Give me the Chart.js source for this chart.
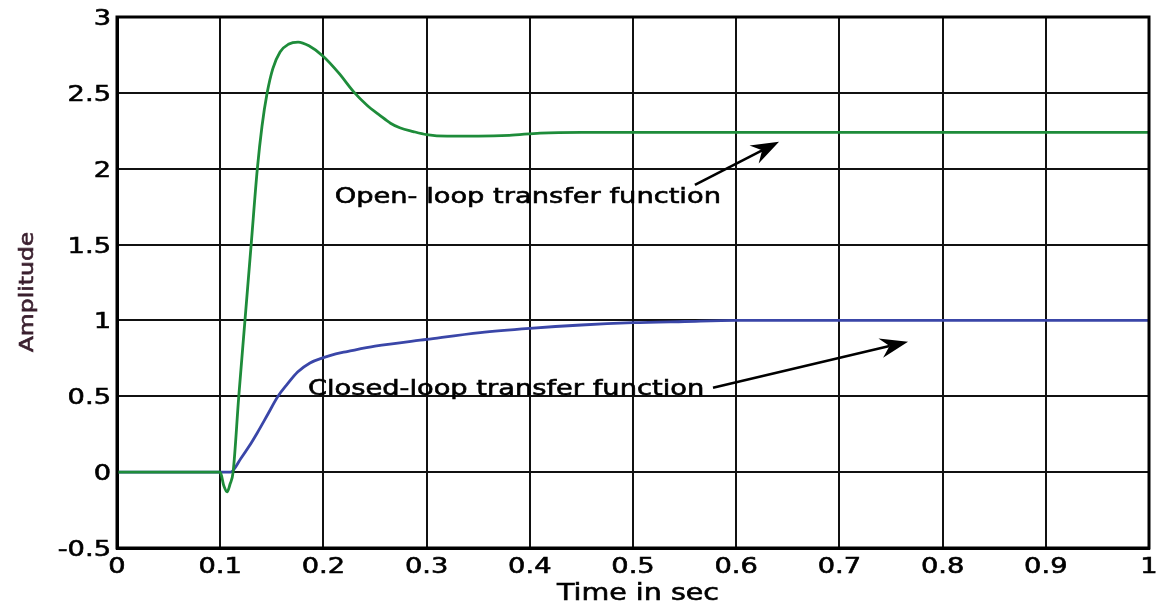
<!DOCTYPE html>
<html>
<head>
<meta charset="utf-8">
<script src="https://cdn.jsdelivr.net/npm/chart.js@4.4.1/dist/chart.umd.min.js"></script>
<style>
  html, body { margin: 0; padding: 0; background: #fff; }
  canvas { display: block; }
</style>
</head>
<body>
<canvas id="c" width="1161" height="606"></canvas>
<script>
// Step response samples (time in seconds, amplitude)
const openTime = [0, 0.1, 0.1035, 0.1067, 0.1095, 0.1125, 0.118, 0.124, 0.130, 0.136, 0.1405, 0.1455, 0.151, 0.158, 0.166, 0.1755, 0.186, 0.2, 0.215, 0.229, 0.242, 0.255, 0.265, 0.274, 0.287, 0.30, 0.32, 0.35, 0.38, 0.41, 0.45, 0.5, 0.6, 0.7, 0.8, 0.9, 1.0];
const openAmp  = [0, 0, -0.09, -0.13, -0.08, 0, 0.5, 1.0, 1.5, 2.0, 2.28, 2.5, 2.66, 2.77, 2.82, 2.835, 2.81, 2.74, 2.63, 2.51, 2.42, 2.35, 2.30, 2.27, 2.245, 2.225, 2.215, 2.215, 2.22, 2.235, 2.24, 2.24, 2.24, 2.24, 2.24, 2.24, 2.24];

const closedTime = [0, 0.11, 0.12, 0.128, 0.136, 0.146, 0.156, 0.165, 0.175, 0.187, 0.2, 0.212, 0.223, 0.25, 0.3, 0.352, 0.4, 0.45, 0.5, 0.55, 0.6, 0.7, 0.8, 0.9, 1.0];
const closedAmp  = [0, 0, 0.09, 0.17, 0.26, 0.38, 0.50, 0.58, 0.66, 0.72, 0.755, 0.78, 0.795, 0.83, 0.875, 0.92, 0.948, 0.97, 0.985, 0.993, 1.0, 1.0, 1.0, 1.0, 1.0];

const xTicks = [0, 0.1, 0.2, 0.3, 0.4, 0.5, 0.6, 0.7, 0.8, 0.9, 1];
const xTickLabels = ['0', '0.1', '0.2', '0.3', '0.4', '0.5', '0.6', '0.7', '0.8', '0.9', '1'];
const yTicks = [-0.5, 0, 0.5, 1, 1.5, 2, 2.5, 3];
const yTickLabels = ['-0.5', '0', '0.5', '1', '1.5', '2', '2.5', '3'];

const seriesNames = ['Open- loop transfer function', 'Closed-loop transfer function'];
const xTitle = 'Time in sec';
const yTitle = 'Amplitude';

const FONT = '"DejaVu Sans", Verdana, sans-serif';
const STRETCH = 1.24;   // wide lettering

const pts = (xs, ys) => xs.map((x, i) => ({ x: x, y: ys[i] }));

// Callouts: label anchor and arrow, in data units
const callouts = [
  { text: seriesNames[0], at: { x: 0.211, y: 1.776 }, from: { x: 0.560, y: 1.894 }, to: { x: 0.6415, y: 2.178 } },
  { text: seriesNames[1], at: { x: 0.185, y: 0.508 }, from: { x: 0.5775, y: 0.556 }, to: { x: 0.7665, y: 0.86 } }
];

function wideText(ctx, text, x, y, align, color, size) {
  ctx.save();
  ctx.translate(x, y);
  ctx.scale(STRETCH, 1);
  ctx.font = size + 'px ' + FONT;
  ctx.textAlign = align;
  ctx.textBaseline = 'alphabetic';
  ctx.fillStyle = color;
  ctx.strokeStyle = color;
  ctx.lineWidth = 0.6;
  ctx.fillText(text, 0, 0);
  ctx.strokeText(text, 0, 0);
  ctx.restore();
}

function arrow(ctx, x0, y0, x1, y1) {
  const ang = Math.atan2(y1 - y0, x1 - x0);
  const len = 28, half = 10, notch = 19;
  const ux = Math.cos(ang), uy = Math.sin(ang);
  ctx.beginPath();
  ctx.moveTo(x0, y0);
  ctx.lineTo(x1 - ux * notch, y1 - uy * notch);
  ctx.stroke();
  const bx = x1 - ux * len, by = y1 - uy * len;
  const nx = -uy, ny = ux;
  ctx.beginPath();
  ctx.moveTo(x1, y1);
  ctx.lineTo(bx + nx * half, by + ny * half);
  ctx.lineTo(x1 - ux * notch, y1 - uy * notch);
  ctx.lineTo(bx - nx * half, by - ny * half);
  ctx.closePath();
  ctx.fill();
}

const background = {
  id: 'background',
  beforeDraw(chart) {
    const ctx = chart.ctx;
    ctx.save();
    ctx.fillStyle = '#fff';
    ctx.fillRect(0, 0, chart.width, chart.height);
    ctx.restore();
  }
};

const decorations = {
  id: 'decorations',
  afterDraw(chart) {
    const { ctx, chartArea: a, scales } = chart;
    const sx = scales.x, sy = scales.y;
    ctx.save();
    // frame
    ctx.strokeStyle = '#000';
    ctx.lineWidth = 3;
    ctx.strokeRect(a.left, a.top, a.right - a.left, a.bottom - a.top);

    // tick labels
    sx.ticks.forEach((t, i) => {
      wideText(ctx, xTickLabels[i], sx.getPixelForValue(t.value), a.bottom + 25, 'center', '#000', 22);
    });
    sy.ticks.forEach((t, i) => {
      wideText(ctx, yTickLabels[i], a.left - 6, sy.getPixelForValue(t.value) + 8, 'right', '#000', 22);
    });

    // callouts
    ctx.fillStyle = '#000';
    ctx.strokeStyle = '#000';
    ctx.lineWidth = 2.6;
    callouts.forEach(c => {
      wideText(ctx, c.text, sx.getPixelForValue(c.at.x), sy.getPixelForValue(c.at.y), 'left', '#000', 22);
      arrow(ctx, sx.getPixelForValue(c.from.x), sy.getPixelForValue(c.from.y),
                 sx.getPixelForValue(c.to.x), sy.getPixelForValue(c.to.y));
    });

    // axis titles
    wideText(ctx, xTitle, (a.left + a.right) / 2 + 5, 600, 'center', '#000', 23);
    ctx.translate(33, 292);
    ctx.rotate(-Math.PI / 2);
    wideText(ctx, yTitle, 0, 0, 'center', '#3a1f2e', 19);
    ctx.restore();
  }
};

new Chart(document.getElementById('c'), {
  type: 'scatter',
  data: {
    datasets: [
      { label: seriesNames[0], data: pts(openTime, openAmp), showLine: true, borderColor: '#1e8c3a',
        borderWidth: 2.8, pointRadius: 0, cubicInterpolationMode: 'monotone' },
      { label: seriesNames[1], data: pts(closedTime, closedAmp), showLine: true, borderColor: '#3a46a8',
        borderWidth: 2.8, pointRadius: 0, cubicInterpolationMode: 'monotone' }
    ]
  },
  options: {
    responsive: false,
    animation: false,
    devicePixelRatio: 1,
    layout: { padding: { left: 0, top: 17, right: 12, bottom: 0 } },
    plugins: { legend: { display: false }, tooltip: { enabled: false } },
    scales: {
      x: {
        type: 'linear', min: 0, max: 1,
        afterBuildTicks: s => { s.ticks = xTicks.map(v => ({ value: v })); },
        afterFit: s => { s.height = 58; },
        grid: { color: '#111', lineWidth: 2, drawTicks: false },
        border: { color: '#000', width: 3 },
        ticks: { display: false, autoSkip: false }
      },
      y: {
        type: 'linear', min: -0.5, max: 3,
        afterBuildTicks: s => { s.ticks = yTicks.map(v => ({ value: v })); },
        afterFit: s => { s.width = 117; },
        grid: { color: '#111', lineWidth: 2, drawTicks: false },
        border: { color: '#000', width: 3 },
        ticks: { display: false, autoSkip: false }
      }
    }
  },
  plugins: [background, decorations]
});
</script>
</body>
</html>
